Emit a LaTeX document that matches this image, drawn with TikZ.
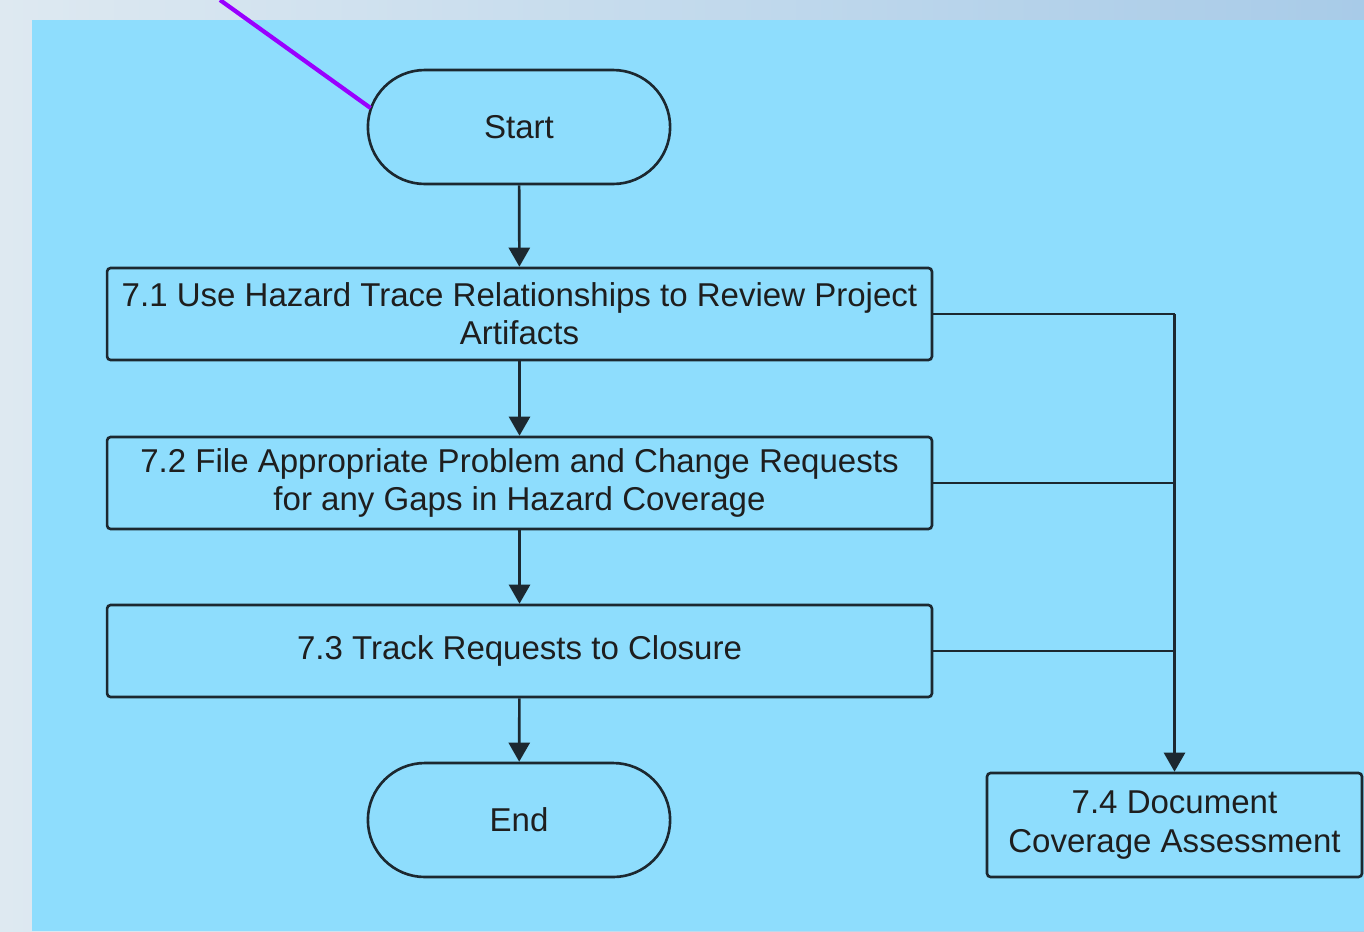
\documentclass[tikz,border=0pt]{standalone}
\usepackage{fontspec}
\setmainfont{Liberation Sans}
\usetikzlibrary{shapes,shapes.misc,arrows,arrows.meta,positioning,calc}
\usepackage{xcolor}
\definecolor{panelblue}{RGB}{142,221,253}
\definecolor{skypale}{RGB}{222,233,241}
\definecolor{skyblue}{RGB}{168,203,232}
\definecolor{edgedark}{RGB}{28,40,48}
\definecolor{textdark}{RGB}{30,30,30}
\definecolor{pointerviolet}{RGB}{153,0,255}

\tikzset{
    stepbox/.style={draw=edgedark, line width=1.5pt, rounded corners=2pt, align=center,
        text=textdark, font=\fontsize{18.8}{21.8}\selectfont},
    terminal/.style={rounded rectangle, draw=edgedark, line width=1.5pt,
        minimum width=6.28cm, minimum height=2.28cm, text=textdark,
        font=\fontsize{18.8}{21.8}\selectfont},
    flow/.style={draw=edgedark, line width=1.5pt, -{Triangle[length=0.38cm, width=0.42cm]}},
    link/.style={draw=edgedark, line width=1.5pt}
}

\begin{document}
\begin{tikzpicture}[x=0.02cm, y=-0.02cm]
    % Backdrop and panel
    \useasboundingbox (0,0) rectangle (1364,931);
    \shade[left color=skypale, right color=skyblue] (0,0) rectangle (1364,931);
    \fill[panelblue] (32,20) rectangle (1364,931);

    % Terminals
    \node[terminal] (start) at (519,127) {Start};
    \node[terminal] (end) at (519,820) {End};

    % Process steps
    \node[stepbox, minimum width=16.5cm, minimum height=1.84cm] (s71) at (519.5,314)
        {7.1 Use Hazard Trace Relationships to Review Project\\Artifacts};
    \node[stepbox, minimum width=16.5cm, minimum height=1.84cm] (s72) at (519.5,483)
        {7.2 File Appropriate Problem and Change Requests\\for any Gaps in Hazard Coverage};
    \node[stepbox, minimum width=16.5cm, minimum height=1.84cm] (s73) at (519.5,651)
        {7.3 Track Requests to Closure};
    \node[stepbox, minimum width=7.5cm, minimum height=2.08cm] (s74) at (1174.5,825)
        {7.4 Document\\Coverage Assessment};

    % Main flow
    \draw[flow] (start) -- (s71);
    \draw[flow] (s71) -- (s72);
    \draw[flow] (s72) -- (s73);
    \draw[flow] (s73) -- (end);

    % Side branch to 7.4
    \coordinate (bus) at (s74.north |- s71.east);
    \draw[link] (s71.east) -- (bus);
    \draw[flow] (bus) -- (s74.north);
    \draw[link] (s72.east) -- (s72.east -| bus);
    \draw[link] (s73.east) -- (s73.east -| bus);

    % Pointer
    \coordinate (tip) at (220,0);
    \coordinate (hit) at ($(start.west)+(4,-19)$);
    \draw[pointerviolet, line width=2.4pt] (tip) -- (hit);
\end{tikzpicture}
\end{document}
